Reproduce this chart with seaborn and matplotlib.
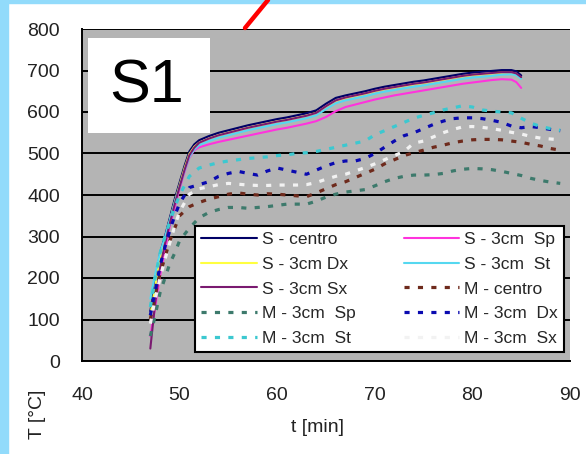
import matplotlib
matplotlib.use("Agg")
import matplotlib.pyplot as plt
from matplotlib.lines import Line2D
from matplotlib.patches import Rectangle
import seaborn as sns
import pandas as pd

# time axes [min]
T_S = [47.0, 47.5, 48.0, 48.5, 49.0, 49.5, 50.0, 50.5, 51.0, 51.5,
       52, 53, 54, 55, 56, 57, 58, 59, 60, 61, 62, 63, 64, 65, 66, 67, 68,
       69, 70, 71, 72, 73, 74, 75, 76, 77, 78, 79, 80, 81, 82, 83, 84, 84.5, 85]
T_M = [47, 47.5, 48, 48.5, 49, 49.5, 50] + list(range(51, 90))

# S series (solid lines), temperature [C]
S_CENTRO = [120, 190, 260, 300, 345, 390, 430, 470, 505, 522,
            532, 542, 550, 556, 562, 568, 573, 578, 583, 587,
            592, 597, 604, 620, 634, 640, 645, 650, 656, 661,
            665, 669, 673, 676, 680, 684, 688, 692, 695, 697,
            699, 701, 701, 698, 688]
S_SP = [60, 130, 205, 268, 325, 370, 415, 455, 490, 508,
        515, 522, 528, 533, 538, 543, 548, 553, 558, 562,
        567, 572, 578, 588, 602, 612, 618, 624, 630, 635,
        640, 644, 648, 652, 656, 660, 664, 668, 671, 674,
        677, 679, 678, 672, 658]
S_DX = [110, 180, 250, 292, 338, 383, 424, 464, 499, 516,
        526, 536, 544, 550, 556, 562, 567, 572, 577, 581,
        586, 591, 598, 613, 627, 634, 639, 644, 650, 655,
        659, 663, 667, 670, 674, 678, 682, 686, 689, 691,
        693, 695, 695, 692, 682]
S_ST = [150, 210, 262, 298, 340, 382, 420, 458, 492, 510,
        520, 530, 538, 544, 550, 556, 561, 566, 571, 575,
        580, 585, 592, 607, 621, 628, 633, 638, 644, 649,
        653, 657, 661, 664, 668, 672, 676, 680, 683, 685,
        687, 690, 691, 689, 680]
S_SX = [30, 140, 225, 282, 332, 378, 420, 460, 496, 514,
        526, 536, 544, 550, 556, 562, 567, 572, 577, 581,
        586, 591, 598, 614, 628, 635, 640, 645, 651, 656,
        660, 664, 668, 671, 675, 679, 683, 687, 690, 692,
        694, 696, 696, 693, 684]

# M series (dotted lines), temperature [C]
M_CENTRO = [100, 160, 210, 250, 290, 320, 350,
            372, 382, 390, 396, 402, 405, 402, 400, 403, 402,
            400, 398, 396, 405, 415, 425, 432, 442, 452, 462,
            475, 485, 495, 502, 508, 515, 520, 526, 530, 533,
            534, 534, 533, 530, 527, 522, 518, 512, 508]
M_SP = [60, 110, 165, 200, 235, 260, 290,
        320, 345, 358, 365, 370, 370, 368, 370, 372, 375,
        378, 378, 378, 385, 395, 402, 407, 410, 413, 422,
        432, 440, 445, 448, 448, 449, 452, 458, 462, 464,
        463, 461, 457, 452, 447, 440, 435, 431, 428]
M_DX = [110, 170, 230, 275, 315, 350, 380,
        418, 425, 432, 445, 452, 457, 452, 448, 458, 465,
        460, 455, 450, 460, 470, 478, 482, 482, 488, 500,
        515, 530, 543, 550, 560, 570, 578, 584, 586, 586,
        584, 580, 575, 566, 562, 565, 562, 558, 555]
M_ST = [130, 200, 260, 300, 335, 370, 400,
        445, 465, 472, 478, 482, 485, 488, 490, 492, 495,
        497, 500, 502, 505, 510, 515, 520, 525, 530, 545,
        555, 565, 575, 585, 592, 598, 605, 610, 615, 612,
        605, 602, 600, 598, 585, 573, 565, 560, 556]
M_SX = [90, 150, 200, 245, 285, 325, 360,
        402, 415, 420, 425, 428, 426, 424, 423, 423, 424,
        424, 424, 425, 430, 438, 445, 450, 458, 466, 475,
        485, 495, 505, 525, 530, 540, 550, 558, 564, 565,
        563, 560, 556, 551, 547, 541, 537, 535, 533]

LABELS = ["S - centro", "S - 3cm  Sp", "S - 3cm Dx", "S - 3cm  St", "S - 3cm Sx",
          "M - centro", "M - 3cm  Sp", "M - 3cm  Dx", "M - 3cm  St", "M - 3cm  Sx"]
COLORS = ["#000066", "#ff33dd", "#ffff40", "#55d8f0", "#7a1a70",
          "#6e2a1c", "#3d7a6c", "#0a0ab0", "#3cc8d0", "#f2f2f2"]

series = [(T_S, S_CENTRO), (T_S, S_SP), (T_S, S_DX), (T_S, S_ST), (T_S, S_SX),
          (T_M, M_CENTRO), (T_M, M_SP), (T_M, M_DX), (T_M, M_ST), (T_M, M_SX)]

sns.set_theme(style="white")
plt.rcParams["font.family"] = ["Liberation Sans", "DejaVu Sans"]

fig = plt.figure(figsize=(5.86, 4.54), dpi=100)
fig.patch.set_facecolor("white")

# light blue slide border
fig.add_artist(Rectangle((0, 0), 8 / 586, 1, transform=fig.transFigure,
                         color="#92dbfb", zorder=0))
fig.add_artist(Rectangle((0, 1 - 3 / 454), 1, 3 / 454, transform=fig.transFigure,
                         color="#92dbfb", zorder=0))

ax = fig.add_axes([82 / 586, 1 - 361 / 454, 488 / 586, 332 / 454])
ax.set_facecolor("#b4b4b4")

for i, ((t, v), lab, col) in enumerate(zip(series, LABELS, COLORS)):
    df = pd.DataFrame({"t": t, "T": v})
    sns.lineplot(data=df, x="t", y="T", ax=ax, color=col, label=lab,
                 legend=False, zorder=3)
    line = ax.lines[-1]
    if i < 5:
        line.set_linewidth(1.5)
        line.set_linestyle("-")
    else:
        line.set_linewidth(2.3)
        line.set_linestyle((0, (1.6, 2.6)))
        line.set_dash_capstyle("butt")

ax.set_xlim(40, 90)
ax.set_ylim(0, 800)
ax.set_xticks(range(40, 91, 10))
ax.set_yticks(range(0, 801, 100))
ax.yaxis.grid(True, color="black", linewidth=1.4)
ax.xaxis.grid(False)
ax.set_axisbelow(True)
for s in ["top", "right"]:
    ax.spines[s].set_visible(False)
for s in ["left", "bottom"]:
    ax.spines[s].set_color("black")
    ax.spines[s].set_linewidth(1.4)
ax.tick_params(axis="both", direction="out", length=6, width=1.4, color="black",
               labelsize=14, labelcolor="#222222")
ax.tick_params(axis="y", pad=10)
ax.tick_params(axis="x", pad=13)
ax.set_xlabel("")
ax.set_ylabel("")

fig.text(317 / 586, 1 - 428 / 454, "t [min]", ha="center", va="center",
         fontsize=14, color="#222222")
fig.text(37 / 586, 1 - 414 / 454, "T [°C]", ha="center", va="center",
         rotation=90, fontsize=14, color="#222222")

# S1 label box
ax.add_patch(Rectangle((0.0123, 0.687), 0.25, 0.286, transform=ax.transAxes,
                       facecolor="white", edgecolor="none", zorder=5))
ax.text(0.133, 0.825, "S1", transform=ax.transAxes, ha="center", va="center",
        fontsize=44, color="black", zorder=6)

# red pointer line at the top
fig.add_artist(Line2D([245 / 586, 268 / 586], [1 - 28 / 454, 1.0],
                      transform=fig.transFigure, color="red", linewidth=3.2))

handles, labels = ax.get_legend_handles_labels()
order = [0, 2, 4, 6, 8, 1, 3, 5, 7, 9]
leg = ax.legend([handles[k] for k in order], [labels[k] for k in order],
                ncol=2, loc="lower left", bbox_to_anchor=(0.232, 0.027, 0.756, 0.42),
                mode="expand", fontsize=12.5, frameon=True, fancybox=False,
                framealpha=1, edgecolor="black", handlelength=3.2,
                handletextpad=0.3, labelspacing=0.55, borderpad=0.35,
                columnspacing=0.6, borderaxespad=0)
leg.get_frame().set_linewidth(1.5)
leg.set_zorder(7)

plt.savefig("out.png", dpi=100)
plt.close()
